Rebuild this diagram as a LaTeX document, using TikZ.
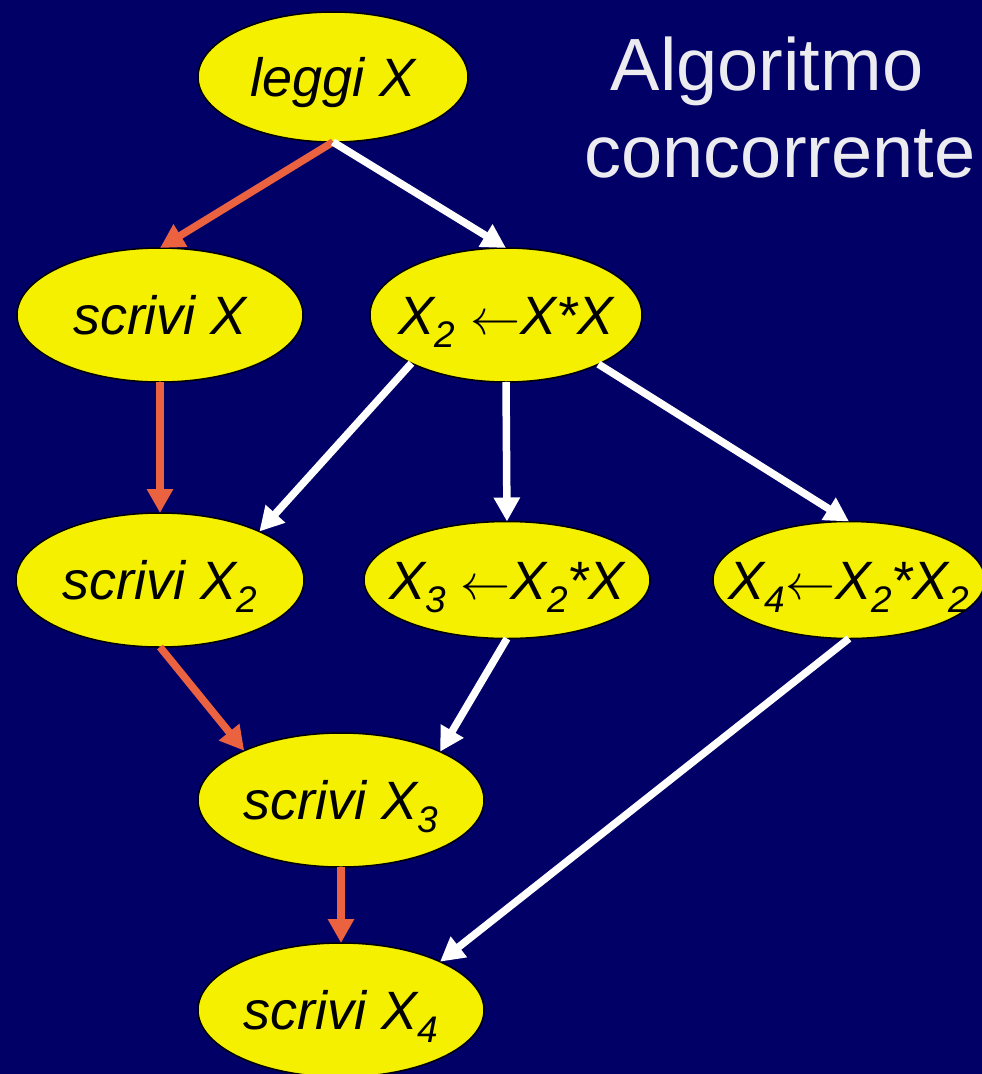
\documentclass[tikz,border=0pt]{standalone}
\usepackage{fontspec}
\usepackage{graphicx}
\setmainfont{Liberation Sans}
\usetikzlibrary{shapes.geometric,arrows.meta}
\definecolor{bg}{RGB}{0,0,102}
\definecolor{ell}{RGB}{245,240,0}
\definecolor{seq}{RGB}{234,98,64}
\definecolor{ttl}{RGB}{235,235,240}
\newcommand\sbs[1]{\raisebox{-13pt}{\fontsize{37}{37}\selectfont #1}}
\newcommand\larr{\resizebox{50pt}{!}{$\leftarrow$}}
\begin{document}
\begin{tikzpicture}[x=1pt,y=-1pt,
  op/.style={ellipse, draw=black, line width=1.5pt, fill=ell, inner sep=0pt, outer sep=0pt,
    text height=39pt, text depth=0pt, font=\fontsize{54}{60}\selectfont\itshape},
  seqarrow/.style={draw=seq, line width=7.5pt, -{Triangle[width=25pt,length=24pt]}},
  pararrow/.style={seqarrow, draw=white},
  ttlstyle/.style={font=\fontsize{74}{85}\selectfont, text=ttl, anchor=base, inner sep=0pt}
]
\fill[bg] (0,0) rectangle (982,1074);
\useasboundingbox (0,0) rectangle (982,1074);

\node[ttlstyle] (t1) at (767,90) {Algoritmo};
\node[ttlstyle] (t2) at (780,177) {concorrente};

\node[op, minimum width=270pt, minimum height=130pt] (leggi) at (333,77) {\makebox[0pt]{leggi X}};
\node[op, minimum width=286pt, minimum height=134pt] (sx) at (160,315) {\makebox[0pt]{scrivi X}};
\node[op, minimum width=272pt, minimum height=134pt] (x2) at (506,315) {\makebox[0pt]{X\sbs{2} \larr X*X}};
\node[op, minimum width=288pt, minimum height=134pt] (sx2) at (160,580) {\makebox[0pt]{scrivi X\sbs{2}}};
\node[op, minimum width=286pt, minimum height=117pt] (x3) at (507,580) {\makebox[0pt]{X\sbs{3} \larr X\sbs{2}*X}};
\node[op, minimum width=272pt, minimum height=117pt] (x4) at (849,580) {\makebox[0pt]{X\sbs{4}\larr X\sbs{2}*X\sbs{2}}};
\node[op, minimum width=286pt, minimum height=134pt] (sx3) at (341,800) {\makebox[0pt]{scrivi X\sbs{3}}};
\node[op, minimum width=286pt, minimum height=134pt] (sx4) at (341,1010) {\makebox[0pt]{scrivi X\sbs{4}}};

\draw[seqarrow] (leggi.south) -- (sx.north);
\draw[pararrow] (leggi.south) -- (x2.north);
\draw[seqarrow] (sx.south) -- (sx2.north);
\draw[pararrow] (x2.207) -- (sx2.26);
\draw[pararrow] (x2.south) -- (x3.north);
\draw[pararrow] (x2.332) -- (x4.north);
\draw[seqarrow] (sx2.south) -- (sx3.153);
\draw[pararrow] (x3.south) -- (sx3.26);
\draw[pararrow] (x4.south) -- (sx4.26);
\draw[seqarrow] (sx3.south) -- (sx4.north);
\end{tikzpicture}
\end{document}
